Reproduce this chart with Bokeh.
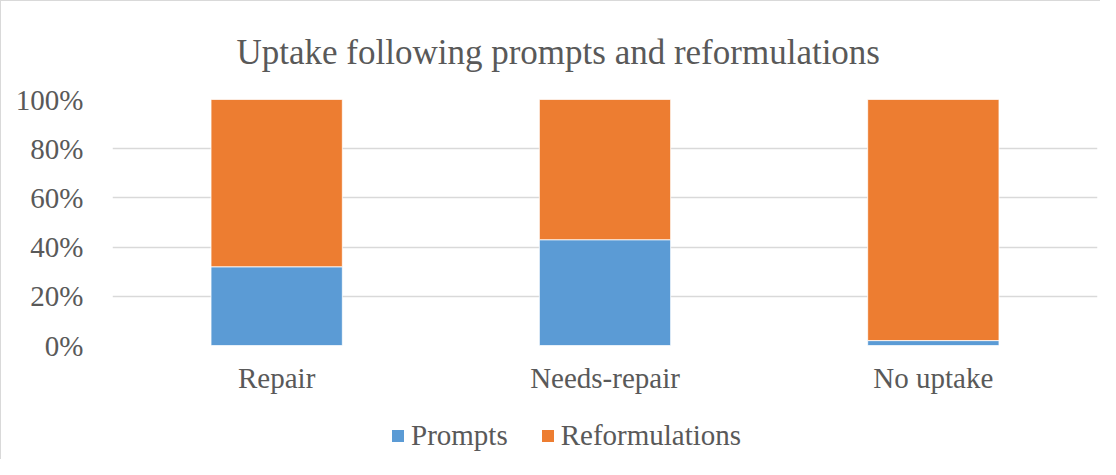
from bokeh.plotting import figure
from bokeh.layouts import column
from bokeh.models import (ColumnDataSource, FactorRange, Range1d, FixedTicker,
                          NumeralTickFormatter, Legend, LegendItem)
from bokeh.embed import file_html
from bokeh.resources import INLINE

# ---- data ----
categories = ["Repair", "Needs-repair", "No uptake"]
series_names = ["Prompts", "Reformulations"]
prompts = [0.32, 0.43, 0.02]
reformulations = [0.68, 0.57, 0.98]
y_ticks = [0, 0.2, 0.4, 0.6, 0.8, 1.0]
title_text = "Uptake following prompts and reformulations"

colors = ["#5B9BD5", "#ED7D31"]
FONT = "Liberation Serif"
TXT = "#595959"

source = ColumnDataSource(dict(cat=categories, Prompts=prompts,
                               Reformulations=reformulations))

# ---- main chart ----
p = figure(x_range=FactorRange(*categories, range_padding=0),
           y_range=Range1d(0, 1),
           width=1100, height=400, output_backend="svg",
           toolbar_location=None, title=title_text,
           min_border_left=111, min_border_right=4,
           min_border_top=98, min_border_bottom=56)

p.vbar_stack(series_names, x="cat", width=0.4, source=source,
             color=colors, line_color="white", line_width=0.8)

p.title.align = "left"
p.title.offset = 124
p.title.standoff = 56
p.title.text_font = FONT
p.title.text_font_size = "35px"
p.title.text_font_style = "normal"
p.title.text_color = TXT

p.outline_line_color = None
p.xgrid.grid_line_color = None
p.ygrid.grid_line_color = "#d9d9d9"
p.ygrid.grid_line_width = 1.3

p.yaxis.ticker = FixedTicker(ticks=y_ticks)
p.yaxis.formatter = NumeralTickFormatter(format="0%")
for ax in (p.xaxis[0], p.yaxis[0]):
    ax.axis_line_color = None
    ax.major_tick_line_color = None
    ax.minor_tick_line_color = None
    ax.major_tick_out = 0
    ax.major_tick_in = 0
    ax.major_label_text_font = FONT
    ax.major_label_text_font_size = "29px"
    ax.major_label_text_color = TXT
p.yaxis.major_label_standoff = 29
p.xaxis.major_label_standoff = 16
p.styles = {"border-left": "1px solid #d9d9d9", "border-top": "1px solid #d9d9d9"}

# ---- legend strip (keys only, zero-size swatch renderers) ----
lg = figure(x_range=Range1d(0, 1), y_range=Range1d(0, 1),
            width=1100, height=59, output_backend="svg", toolbar_location=None,
            x_axis_location=None, y_axis_location=None,
            min_border=0, min_border_left=0, min_border_right=0,
            min_border_top=0, min_border_bottom=0)
lg.outline_line_color = None
lg.xgrid.grid_line_color = None
lg.ygrid.grid_line_color = None
keys = [lg.vbar(x=[0.5], top=[0], bottom=[0], width=0, fill_color=c, line_color=None)
        for c in colors]
legend = Legend(items=[LegendItem(label=n, renderers=[r]) for n, r in zip(series_names, keys)],
                orientation="horizontal", location=(278, 7),
                glyph_width=15, glyph_height=15, label_standoff=6, spacing=32,
                padding=0, margin=0, border_line_color=None,
                background_fill_alpha=0,
                label_text_font=FONT, label_text_font_size="29px",
                label_text_color=TXT)
lg.add_layout(legend, "center")
lg.styles = {"border-left": "1px solid #d9d9d9"}

layout = column(p, lg, spacing=0)
open("out.html", "w").write(file_html(layout, INLINE))
